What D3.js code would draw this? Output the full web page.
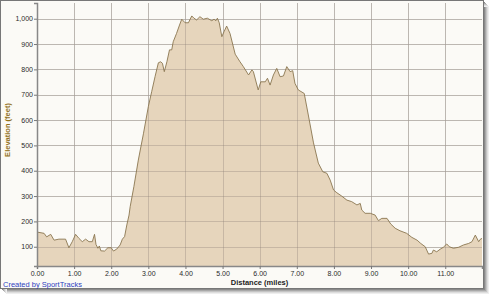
<!DOCTYPE html>
<html>
<head>
<meta charset="utf-8">
<script src="https://cdn.jsdelivr.net/npm/d3@7"></script>
<style>
  html, body { margin: 0; padding: 0; background: #fff; }
  svg { display: block; }
  .tick text { font-family: "Liberation Sans", Arial, sans-serif; font-size: 7px; fill: #2a2a2a; }
</style>
</head>
<body>
<div id="chart"></div>
<script>
// distance (miles) and elevation (feet)
const distance = [0.00, 0.19, 0.26, 0.37, 0.46, 0.59, 0.77, 0.86, 0.95, 1.04, 1.13, 1.22, 1.31, 1.40, 1.49,
  1.55, 1.59, 1.64, 1.68, 1.72, 1.82, 1.91, 2.00, 2.06, 2.15, 2.24, 2.30, 2.36, 2.42, 2.48, 2.51, 2.61,
  2.73, 2.87, 3.00, 3.09, 3.18, 3.27, 3.33, 3.38, 3.43, 3.50, 3.57, 3.63, 3.67, 3.76, 3.84, 3.90, 3.99,
  4.08, 4.17, 4.23, 4.30, 4.39, 4.48, 4.59, 4.71, 4.77, 4.82, 4.86, 4.91, 4.98, 5.04, 5.11, 5.20, 5.34,
  5.47, 5.56, 5.70, 5.79, 5.83, 5.96, 6.03, 6.15, 6.21, 6.28, 6.37, 6.46, 6.55, 6.64, 6.73, 6.82, 6.89,
  6.95, 7.04, 7.20, 7.31, 7.45, 7.58, 7.70, 7.81, 7.90, 7.99, 8.08, 8.21, 8.35, 8.48, 8.62, 8.71, 8.75,
  8.84, 8.98, 9.11, 9.20, 9.29, 9.43, 9.53, 9.65, 9.78, 9.96, 10.10, 10.24, 10.34, 10.46, 10.55, 10.64,
  10.68, 10.77, 10.86, 10.95, 11.04, 11.11, 11.22, 11.36, 11.49, 11.63, 11.72, 11.81, 11.90, 11.94, 11.99];
const elevation = [158, 153, 139, 149, 126, 130, 130, 96, 120, 149, 133, 120, 130, 120, 120,
  149, 109, 94, 103, 84, 83, 96, 96, 83, 91, 107, 130, 140, 186, 225, 258, 337,
  442, 548, 653, 712, 771, 826, 830, 824, 791, 830, 877, 877, 909, 942, 975, 998, 984,
  984, 1011, 1002, 995, 1008, 998, 1002, 992, 998, 992, 1002, 984, 929, 949, 971, 942, 860,
  830, 811, 778, 798, 791, 719, 751, 751, 765, 738, 778, 804, 771, 774, 811, 791, 795,
  745, 719, 705, 620, 510, 430, 396, 390, 363, 324, 313, 300, 284, 278, 265, 271, 245,
  232, 232, 225, 203, 212, 212, 190, 173, 163, 153, 137, 126, 113, 100, 71, 74,
  87, 80, 90, 98, 111, 100, 94, 98, 107, 113, 120, 146, 120, 129, 133];
const xTicks = [0, 1, 2, 3, 4, 5, 6, 7, 8, 9, 10, 11];
const yTicks = [100, 200, 300, 400, 500, 600, 700, 800, 900, 1000];
const xDomain = [0, 11.99];
const yDomain = [24, 1062];

const W = 489, H = 295;
const margin = {top: 3, right: 7, bottom: 29, left: 37};
const width = W - margin.left - margin.right;
const height = H - margin.top - margin.bottom;

const svg = d3.select('#chart').append('svg')
  .attr('width', W)
  .attr('height', H);

// frame with a little drop shadow
const shadow = ['#8a8a8a', '#a8a8a8', '#c4c4c4', '#dddddd', '#eeeeee'];
shadow.forEach((c, i) => {
  svg.append('rect')
    .attr('x', 2.5 + i).attr('y', 2.5 + i)
    .attr('width', 482).attr('height', 287)
    .attr('fill', 'none').attr('stroke', c);
});
svg.append('rect')
  .attr('x', 0.5).attr('y', 0.5)
  .attr('width', 483).attr('height', 288)
  .attr('fill', '#fbfaf6')
  .attr('stroke', '#777');

const g = svg.append('g')
  .attr('transform', 'translate(' + margin.left + ',' + margin.top + ')');

const x = d3.scaleLinear().domain(xDomain).range([0, width]);
const y = d3.scaleLinear().domain(yDomain).range([height, 0]);

const data = distance.map((d, i) => ({d: d, e: elevation[i]}));

// grid underneath
const grid = g.append('g');
grid.selectAll('.vg').data(xTicks).enter().append('line')
  .attr('x1', d => Math.round(x(d)) + 0.5).attr('x2', d => Math.round(x(d)) + 0.5)
  .attr('y1', 0).attr('y2', height)
  .attr('stroke', '#d6d4cf');
grid.selectAll('.hg').data(yTicks).enter().append('line')
  .attr('y1', d => Math.round(y(d)) + 0.5).attr('y2', d => Math.round(y(d)) + 0.5)
  .attr('x1', 0).attr('x2', width)
  .attr('stroke', '#d6d4cf');

const area = d3.area()
  .x(d => x(d.d))
  .y0(height)
  .y1(d => y(d.e));
const line = d3.line()
  .x(d => x(d.d))
  .y(d => y(d.e));

g.append('path').datum(data)
  .attr('d', area)
  .attr('fill', '#e6d5bc');

// grid again on top of the fill, faint
const grid2 = g.append('g');
grid2.selectAll('.vg').data(xTicks).enter().append('line')
  .attr('x1', d => Math.round(x(d)) + 0.5).attr('x2', d => Math.round(x(d)) + 0.5)
  .attr('y1', 0).attr('y2', height)
  .attr('stroke', 'rgba(140,130,120,0.35)');
grid2.selectAll('.hg').data(yTicks).enter().append('line')
  .attr('y1', d => Math.round(y(d)) + 0.5).attr('y2', d => Math.round(y(d)) + 0.5)
  .attr('x1', 0).attr('x2', width)
  .attr('stroke', 'rgba(140,130,120,0.35)');

g.append('path').datum(data)
  .attr('d', line)
  .attr('fill', 'none')
  .attr('stroke', '#8a7650')
  .attr('stroke-width', 0.9);

// axes
const xAxis = g.append('g')
  .attr('transform', 'translate(0,' + height + ')')
  .call(d3.axisBottom(x).tickValues(xTicks).tickFormat(d3.format('.2f')).tickSize(3).tickPadding(2));
const yAxis = g.append('g')
  .call(d3.axisLeft(y).tickValues(yTicks).tickFormat(d3.format(',')).tickSize(3).tickPadding(1));
[xAxis, yAxis].forEach(a => {
  a.select('.domain').attr('stroke', '#888').attr('stroke-width', 1.5);
  a.selectAll('.tick line').attr('stroke', '#777');
});

svg.append('text')
  .attr('x', margin.left + width / 2)
  .attr('y', 285)
  .attr('text-anchor', 'middle')
  .style('font-family', '"Liberation Sans", Arial, sans-serif')
  .style('font-size', '7.5px')
  .style('font-weight', 'bold')
  .style('fill', '#222')
  .text('Distance (miles)');

svg.append('text')
  .attr('transform', 'translate(10,130) rotate(-90)')
  .attr('text-anchor', 'middle')
  .style('font-family', '"Liberation Sans", Arial, sans-serif')
  .style('font-size', '7.5px')
  .style('font-weight', 'bold')
  .style('fill', '#927016')
  .text('Elevation (feet)');

svg.append('text')
  .attr('x', 3)
  .attr('y', 287)
  .style('font-family', '"Liberation Sans", Arial, sans-serif')
  .style('font-size', '7.5px')
  .style('fill', '#2f3fc0')
  .text('Created by SportTracks');
</script>
</body>
</html>
